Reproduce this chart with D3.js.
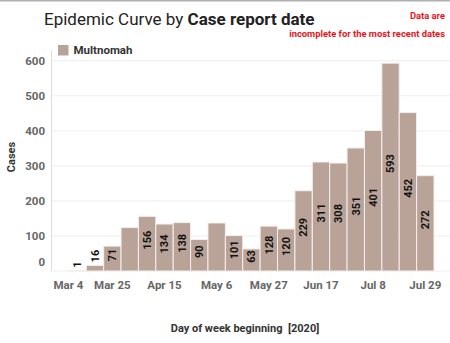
<!DOCTYPE html>
<html>
<head>
<meta charset="utf-8">
<script src="https://cdn.jsdelivr.net/npm/d3@7"></script>
<style>
  body { margin: 0; background: #fff; }
  #chart-container { width: 450px; height: 343px; }
  text { font-family: Roboto, "Noto Sans", sans-serif; }
</style>
</head>
<body>
<div id="chart-container"></div>
<script>
(function() {
  'use strict';

const weeks = ['Mar 4', 'Mar 11', 'Mar 18', 'Mar 25', 'Apr 1', 'Apr 8', 'Apr 15', 'Apr 22',
               'Apr 29', 'May 6', 'May 13', 'May 20', 'May 27', 'Jun 3', 'Jun 10', 'Jun 17',
               'Jun 24', 'Jul 1', 'Jul 8', 'Jul 15', 'Jul 22', 'Jul 29'];
const cases = [0, 1, 16, 71, 124, 156, 134, 138, 90, 137, 101, 63, 128, 120, 229, 311,
               308, 351, 401, 593, 452, 272];
// bars without a printed value in the picture
const hiddenLabels = ['Mar 4', 'Apr 1', 'May 6'];
const xTickLabels = ['Mar 4', 'Mar 25', 'Apr 15', 'May 6', 'May 27', 'Jun 17', 'Jul 8', 'Jul 29'];
const yTicks = [0, 100, 200, 300, 400, 500, 600];

const chart = "#chart-container";
const W = 450;
const H = 343;
const LEFT = 51.5;
const RIGHT = 434;
const TOP = 60.7;
const BOTTOM = 271;
const BAR = "#b9a398";

const svg = d3.select(chart)
  .append('svg')
    .attr('width', W)
    .attr('height', H);

// thin top border
svg.append('rect')
  .attr('x', 0).attr('y', 0)
  .attr('width', W).attr('height', 1.5)
  .attr('fill', '#b0b0b0');

const xScale = d3.scaleBand()
  .domain(weeks)
  .range([LEFT, RIGHT])
  .padding(0);

const yScale = d3.scaleLinear()
  .domain([0, 600])
  .range([BOTTOM, TOP]);

// gridlines
svg.append('g')
  .selectAll('line')
  .data(yTicks)
  .enter()
  .append('line')
    .attr('x1', LEFT)
    .attr('x2', W)
    .attr('y1', (d) => yScale(d))
    .attr('y2', (d) => yScale(d))
    .attr('stroke', '#eeeeee')
    .attr('stroke-width', 1);

// y tick labels
svg.append('g')
  .attr('id', 'y-axis')
  .selectAll('text')
  .data(yTicks)
  .enter()
  .append('text')
    .attr('x', 45)
    .attr('y', (d) => d === 0 ? yScale(d) - 9 : yScale(d))
    .attr('dy', '0.35em')
    .attr('text-anchor', 'end')
    .attr('font-size', 11.5)
    .attr('font-weight', 'bold')
    .attr('fill', '#666')
    .text((d) => d);

// y axis line
svg.append('line')
  .attr('x1', LEFT).attr('x2', LEFT)
  .attr('y1', TOP - 10).attr('y2', BOTTOM)
  .attr('stroke', '#dddddd');

// bars
svg.selectAll('rect.bar')
  .data(weeks)
  .enter()
  .append('rect')
    .attr('class', 'bar')
    .attr('x', (d) => xScale(d))
    .attr('y', (d, i) => yScale(cases[i]))
    .attr('width', xScale.bandwidth())
    .attr('height', (d, i) => BOTTOM - yScale(cases[i]))
    .attr('fill', BAR)
    .attr('stroke', '#f4efed')
    .attr('stroke-width', 1);

// value labels, rotated
svg.append('g')
  .selectAll('text')
  .data(weeks)
  .enter()
  .filter((d) => hiddenLabels.indexOf(d) < 0)
  .append('text')
    .attr('transform', (d) => {
      const idx = weeks.indexOf(d);
      const v = cases[idx];
      const cx = xScale(d) + xScale.bandwidth() / 2;
      const top = yScale(v);
      const len = String(v).length * 6.3;
      let cy;
      if (BOTTOM - top < len + 6) {
        cy = top - 3 - len / 2;
      } else {
        cy = (top + BOTTOM) / 2 - 3.5;
      }
      return `translate(${cx}, ${cy}) rotate(-90)`;
    })
    .attr('text-anchor', 'middle')
    .attr('dy', '0.35em')
    .attr('font-size', 11)
    .attr('font-weight', 'bold')
    .attr('fill', '#111')
    .text((d) => cases[weeks.indexOf(d)]);

// x tick labels
svg.append('g')
  .attr('id', 'x-axis')
  .selectAll('text')
  .data(xTickLabels)
  .enter()
  .append('text')
    .attr('x', (d, i) => i === 0 ? LEFT + 2 : xScale(d) + xScale.bandwidth() / 2)
    .attr('y', 288.5)
    .attr('text-anchor', (d, i) => i === 0 ? 'start' : 'middle')
    .attr('font-size', 11.5)
    .attr('font-weight', 'bold')
    .attr('fill', '#666')
    .text((d) => d);

// axis titles
svg.append('text')
  .attr('transform', 'translate(15, 157) rotate(-90)')
  .attr('text-anchor', 'middle')
  .attr('font-size', 11)
  .attr('font-weight', 'bold')
  .attr('fill', '#333')
  .text('Cases');

svg.append('text')
  .attr('x', 245)
  .attr('y', 331.5)
  .attr('text-anchor', 'middle')
  .attr('font-size', 11)
  .attr('font-weight', 'bold')
  .attr('fill', '#333')
  .style('white-space', 'pre')
  .text('Day of week beginning  [2020]');

// title
const title = svg.append('text')
  .attr('x', 44)
  .attr('y', 25)
  .attr('font-size', 17)
  .attr('fill', '#222');
title.append('tspan').text('Epidemic Curve by ');
title.append('tspan').attr('font-weight', 'bold').text('Case report date');

// note in red
svg.append('text')
  .attr('x', 445).attr('y', 19)
  .attr('text-anchor', 'end')
  .attr('font-size', 9.4)
  .attr('font-weight', 'bold')
  .attr('fill', '#e8141b')
  .text('Data are');
svg.append('text')
  .attr('x', 445).attr('y', 37)
  .attr('text-anchor', 'end')
  .attr('font-size', 9.4)
  .attr('font-weight', 'bold')
  .attr('fill', '#e8141b')
  .text('incomplete for the most recent dates');

// legend
svg.append('rect')
  .attr('x', 58).attr('y', 45)
  .attr('width', 10.5).attr('height', 10.5)
  .attr('fill', BAR);
svg.append('text')
  .attr('x', 73.5).attr('y', 54)
  .attr('font-size', 11.5)
  .attr('font-weight', 'bold')
  .attr('fill', '#333')
  .text('Multnomah');

})()
</script>
</body>
</html>
